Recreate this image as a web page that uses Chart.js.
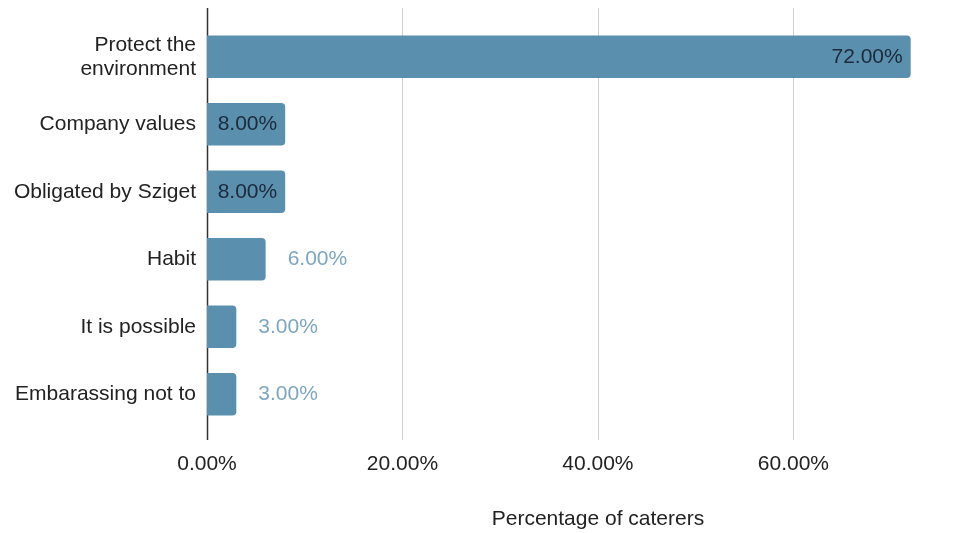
<!DOCTYPE html>
<html>
<head>
<meta charset="utf-8">
<script src="https://cdn.jsdelivr.net/npm/chart.js@4/dist/chart.umd.min.js"></script>
<style>
  html, body { margin: 0; padding: 0; background: #fff; }
  #wrap { width: 977px; height: 533px; }
</style>
</head>
<body>
<div id="wrap"><canvas id="chart"></canvas></div>
<script>
const reasons = [['Protect the', 'environment'], 'Company values', 'Obligated by Sziget', 'Habit', 'It is possible', 'Embarassing not to'];
const shares = [72, 8, 8, 6, 3, 3];
const xTicks = [0, 20, 40, 60];
const xTitle = 'Percentage of caterers';

const FONT = '"Liberation Sans", Arial, sans-serif';
const FS = 21;
const BAR = '#5a8fae';
const pct = v => v.toFixed(2) + '%';

// grid lines run a bit past the plot top/bottom, plus the dark zero line
const gridPlugin = {
  id: 'grid',
  beforeDatasetsDraw(chart) {
    const { ctx, chartArea, scales } = chart;
    const top = 8, bottom = chartArea.bottom + 12;
    ctx.save();
    xTicks.forEach(t => {
      const x = Math.round(scales.x.getPixelForValue(t)) + 0.5;
      ctx.strokeStyle = t === 0 ? '#333' : '#cfcfcf';
      ctx.lineWidth = t === 0 ? 1.5 : 1;
      ctx.beginPath();
      ctx.moveTo(x, top);
      ctx.lineTo(x, bottom);
      ctx.stroke();
    });
    ctx.restore();
  }
};

// value labels: inside the bar when they fit, otherwise just past its end
const valuePlugin = {
  id: 'values',
  afterDatasetsDraw(chart) {
    const { ctx, scales } = chart;
    const meta = chart.getDatasetMeta(0);
    ctx.save();
    ctx.font = FS + 'px ' + FONT;
    ctx.textBaseline = 'middle';
    meta.data.forEach((bar, i) => {
      const txt = pct(shares[i]);
      const w = ctx.measureText(txt).width;
      const barW = bar.x - bar.base;
      if (w + 16 < barW) {
        ctx.fillStyle = '#1c2a3a';
        ctx.textAlign = 'right';
        ctx.fillText(txt, bar.x - 8, bar.y);
      } else {
        ctx.fillStyle = '#7ea6c0';
        ctx.textAlign = 'left';
        ctx.fillText(txt, bar.x + 22, bar.y);
      }
    });
    // axis title
    ctx.fillStyle = '#222';
    ctx.textAlign = 'center';
    ctx.fillText(xTitle, scales.x.getPixelForValue(40), 519);
    ctx.restore();
  }
};

new Chart(document.getElementById('chart'), {
  type: 'bar',
  data: {
    labels: reasons,
    datasets: [{
      data: shares,
      backgroundColor: BAR,
      borderRadius: 4,
      borderSkipped: 'start',
      barPercentage: 0.63,
      categoryPercentage: 1,
    }],
  },
  options: {
    indexAxis: 'y',
    responsive: true,
    maintainAspectRatio: false,
    animation: false,
    layout: { padding: { top: 16, right: 37, left: 0, bottom: 0 } },
    plugins: { legend: { display: false }, tooltip: { enabled: false } },
    scales: {
      x: {
        min: 0,
        max: 75,
        afterBuildTicks: axis => { axis.ticks = xTicks.map(v => ({ value: v })); },
        afterFit: axis => { axis.height = 105; },
        grid: { display: false, drawTicks: false },
        border: { display: false },
        ticks: {
          padding: 24,
          color: '#222',
          font: { family: FONT, size: FS },
          callback: v => pct(v),
        },
      },
      y: {
        afterFit: axis => { axis.width = 207; },
        grid: { display: false, drawTicks: false },
        border: { display: false },
        ticks: {
          padding: 11,
          color: '#222',
          font: { family: FONT, size: FS, lineHeight: 1.15 },
        },
      },
    },
  },
  plugins: [gridPlugin, valuePlugin],
});
</script>
</body>
</html>
